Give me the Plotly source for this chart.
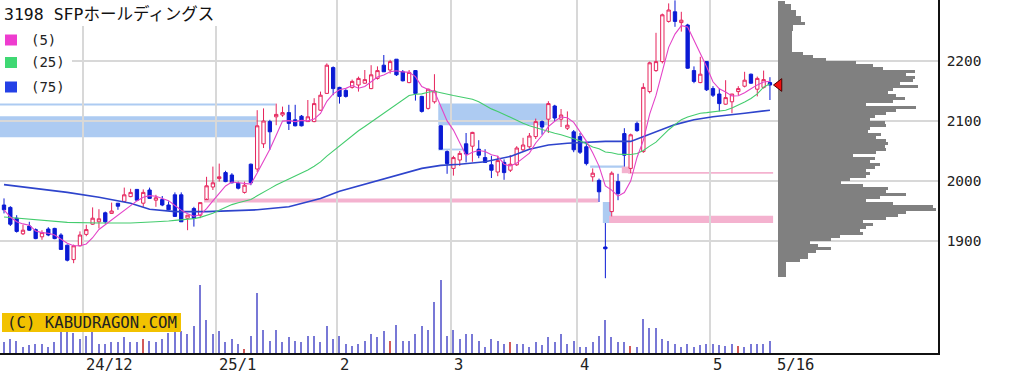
import plotly.graph_objects as go
import pandas as pd

# ---------------- data ----------------
opens = [1960, 1956, 1938, 1912, 1925, 1919, 1907, 1920, 1921, 1910,
         1893, 1869, 1892, 1911, 1928, 1932, 1947, 1946, 1963, 1966,
         1974, 1986, 1963, 1985, 1968, 1969, 1960, 1977, 1977, 1938,
         1954, 1943, 1969, 1990, 2004, 2014, 2010, 1996, 1981, 2028,
         2020, 2062, 2099, 2107, 2110, 2114, 2102, 2108, 2099, 2099,
         2118, 2146, 2189, 2156, 2151, 2156, 2160, 2163, 2154, 2171,
         2193, 2185, 2203, 2182, 2164, 2184, 2141, 2121, 2132, 2092,
         2049, 2021, 2035, 2062, 2058, 2053, 2039, 2027, 2015, 2031,
         2018, 2027, 2052, 2057, 2074, 2099, 2103, 2125, 2103, 2088,
         2082, 2074, 2057, 2007, 2001, 1890, 1949, 1999, 2079, 2021,
         2096, 2049, 2149, 2184, 2199, 2266, 2282, 2264, 2260, 2184,
         2164, 2199, 2154, 2145, 2128, 2132, 2149, 2158, 2178, 2153,
         2156, 2164]
highs = [1971, 1958, 1943, 1927, 1932, 1921, 1918, 1923, 1922, 1913,
         1894, 1894, 1916, 1927, 1956, 1953, 1949, 1964, 1963, 1989,
         1987, 1986, 1986, 1989, 1977, 1975, 1966, 1981, 1981, 1943,
         1957, 1964, 2007, 2024, 2029, 2017, 2013, 1999, 1999, 2029,
         2118, 2121, 2102, 2129, 2124, 2127, 2127, 2110, 2135, 2138,
         2149, 2196, 2191, 2157, 2153, 2169, 2174, 2185, 2193, 2191,
         2210, 2202, 2203, 2185, 2185, 2185, 2142, 2154, 2178, 2093,
         2051, 2042, 2050, 2080, 2082, 2068, 2053, 2042, 2042, 2036,
         2043, 2058, 2072, 2080, 2104, 2101, 2133, 2127, 2120, 2116,
         2085, 2080, 2063, 2021, 2004, 1930, 2016, 2012, 2088, 2079,
         2099, 2163, 2199, 2247, 2279, 2296, 2301, 2282, 2262, 2191,
         2207, 2200, 2158, 2154, 2168, 2145, 2158, 2182, 2179, 2174,
         2184, 2173]
lows = [1946, 1925, 1914, 1910, 1917, 1903, 1902, 1908, 1903, 1885,
        1866, 1863, 1891, 1908, 1927, 1921, 1929, 1945, 1952, 1965,
        1973, 1968, 1957, 1970, 1957, 1958, 1951, 1940, 1932, 1918,
        1924, 1938, 1971, 1985, 1999, 1998, 1996, 1986, 1979, 1993,
        2015, 2055, 2052, 2093, 2107, 2085, 2091, 2091, 2099, 2098,
        2117, 2145, 2143, 2129, 2139, 2154, 2149, 2162, 2153, 2169,
        2182, 2179, 2175, 2166, 2163, 2134, 2114, 2119, 2129, 2053,
        2012, 2009, 2025, 2031, 2032, 2038, 2030, 2005, 2008, 2002,
        2015, 2025, 2049, 2054, 2070, 2077, 2080, 2100, 2090, 2085,
        2048, 2045, 2026, 1999, 1965, 1838, 1941, 1968, 2024, 2013,
        2082, 2047, 2146, 2182, 2196, 2264, 2257, 2249, 2187, 2163,
        2163, 2150, 2140, 2116, 2127, 2113, 2143, 2156, 2162, 2141,
        2154, 2135]
closes = [1952, 1928, 1916, 1918, 1918, 1904, 1914, 1910, 1904, 1886,
          1868, 1892, 1910, 1919, 1938, 1937, 1932, 1950, 1958, 1977,
          1981, 1968, 1981, 1971, 1972, 1960, 1952, 1941, 1932, 1943,
          1938, 1964, 1992, 1997, 2007, 1999, 1997, 1988, 1993, 1997,
          2092, 2100, 2082, 2111, 2114, 2096, 2092, 2092, 2107, 2129,
          2143, 2193, 2154, 2141, 2141, 2166, 2171, 2169, 2177, 2184,
          2182, 2199, 2177, 2167, 2181, 2146, 2116, 2153, 2150, 2053,
          2029, 2039, 2046, 2045, 2081, 2043, 2031, 2018, 2034, 2014,
          2028, 2055, 2060, 2075, 2099, 2090, 2129, 2105, 2110, 2093,
          2052, 2048, 2029, 2013, 1982, 1887, 2013, 1979, 2043, 2077,
          2084, 2156, 2197, 2199, 2277, 2285, 2266, 2268, 2188, 2166,
          2178, 2152, 2143, 2129, 2139, 2145, 2154, 2168, 2163, 2171,
          2169, 2160]
# volume (relative units, read as bar heights)
volumes = [10.7, 14, 11.7, 6, 8, 9.3, 9.3, 6, 10.7, 21.7,
           21.7, 20, 14, 17.3, 21.7, 9.3, 9.3, 10.7, 10.7, 15.7,
           10.7, 10.7, 14, 12.3, 10.7, 14, 20, 21.7, 21.7, 19,
           26.7, 68.3, 33.3, 19, 22.3, 10.7, 14, 9.3, 4.3, 17.3,
           60, 23.3, 12.3, 23.3, 10.7, 15.7, 12.3, 10.7, 17.3, 17.3,
           10.7, 26.7, 14, 17.3, 9.3, 7.3, 9.3, 12.3, 19, 15.7,
           21.7, 12.3, 28.3, 12.3, 12.3, 19, 26.7, 23.3, 50.7, 72.7,
           17.3, 23.3, 14, 19, 19, 12.3, 6, 14, 12.3, 9.3,
           10.7, 9.3, 9.3, 6, 10.7, 8.3, 15.7, 10.7, 19, 9.3,
           12.3, 6, 6, 10.7, 17.3, 33.3, 15.7, 10.7, 10.7, 7.3,
           6, 34.3, 25, 25, 14, 12.3, 9.3, 6, 9.3, 6,
           8.3, 9.3, 9.3, 8.3, 7.3, 9.3, 7.3, 6, 9.3, 9.3,
           9.3, 12.3]
red_volume_days = [22, 38, 61, 80, 99, 116]

# moving averages
ma25_early_idx = [0, 5, 10, 15, 20]
ma25_early_val = [1940, 1935, 1931, 1930, 1930]
ma75_idx = [0, 5, 10, 15, 20, 23, 27, 32, 36, 40, 45, 50, 53, 56, 60, 63,
            66, 69, 72, 76, 80, 83, 86, 89, 92, 95, 99, 101, 103, 106, 109,
            112, 117, 121]
ma75_val = [1994, 1988, 1981, 1973, 1963, 1953, 1949, 1949, 1951, 1952,
            1957, 1971, 1983, 1992, 2003, 2012, 2021, 2026, 2028, 2032,
            2041, 2053, 2060, 2063, 2065, 2066, 2066, 2074, 2083, 2094,
            2102, 2107, 2113, 2118]

# month axis
month_labels = ["24/12", "25/1", "2", "3", "4", "5"]
month_first_idx = [13, 34, 53, 71, 91, 112]
last_date_label = "5/16"

# price-by-volume profile (5-yen bins from 2300 downwards)
PROFILE_TOP = 2300
PROFILE_BIN = 5
profile_vol = [20, 40, 40, 55, 55, 70, 70, 80, 45, 45, 42, 42, 42, 42, 42, 42,
               42, 75, 105, 145, 235, 285, 315, 410, 385, 410, 405, 365, 420,
               345, 330, 355, 380, 345, 265, 415, 355, 325, 290, 275, 320, 325,
               275, 270, 310, 295, 325, 330, 320, 325, 295, 225, 290, 275, 305,
               290, 265, 275, 265, 215, 190, 255, 330, 325, 385, 305, 265, 345,
               465, 475, 385, 360, 325, 255, 285, 265, 245, 255, 185, 160, 95,
               120, 160, 115, 90, 90, 65, 25, 25, 25, 25, 25]
current_price = 2160

# price gaps (windows): start bar, end bar (None = still open), low, high, kind
gaps = [(None, 40, 2073, 2108, "down"),
        (None, 43, 2126, 2129, "down"),
        (32, 94, 1964, 1971, "up"),
        (69, 86, 2093, 2129, "down"),
        (69, 73, 2051, 2054, "down"),
        (93, 98, 2022, 2026, "down"),
        (95, 96, 1930, 1965, "down"),
        (98, 99, 2013, 2024, "up"),
        (99, None, 2012, 2015, "up"),
        (96, None, 1930, 1942, "up")]

# ---------------- layout helpers ----------------
W_PLOT, H_PLOT = 938, 353
def pxx(px):
    return px / W_PLOT
def pxy(py):
    return 1 - py / H_PLOT

n = len(closes)
xs = list(range(n))
X_RANGE = [-0.632, 147.55]
Y_RANGE = [1713.33, 2301.67]
MONO = "DejaVu Sans Mono, Noto Sans CJK JP"

cl = pd.Series(closes)
ma5 = cl.rolling(5, min_periods=1).mean()
ma25_calc = cl.rolling(25).mean()
ma25_x = ma25_early_idx + [i for i in xs if i >= 24]
ma25_y = ma25_early_val + [ma25_calc[i] for i in xs if i >= 24]

fig = go.Figure()

vol_colors = ["#d25a5a" if i in red_volume_days else "#7878d6" for i in xs]
fig.add_trace(go.Bar(x=xs, y=volumes, yaxis="y3", width=0.22,
                     marker=dict(color=vol_colors, line=dict(width=0)),
                     hoverinfo="skip", showlegend=False))

fig.add_trace(go.Candlestick(
    x=xs, open=opens, high=highs, low=lows, close=closes,
    increasing=dict(line=dict(color="#e6245c", width=1), fillcolor="white"),
    decreasing=dict(line=dict(color="#0a1ad4", width=1), fillcolor="#0a1ad4"),
    whiskerwidth=0, showlegend=False, hoverinfo="skip"))

fig.add_trace(go.Scatter(x=ma75_idx, y=ma75_val, mode="lines",
                         line=dict(color="#2e44cc", width=1.6), showlegend=False))
fig.add_trace(go.Scatter(x=ma25_x, y=ma25_y, mode="lines",
                         line=dict(color="#44cc6e", width=1.1), showlegend=False))
fig.add_trace(go.Scatter(x=xs, y=ma5, mode="lines",
                         line=dict(color="#e444c8", width=1.1), showlegend=False))

prof_prices = [PROFILE_TOP - PROFILE_BIN / 2 - PROFILE_BIN * k for k in range(len(profile_vol))]
fig.add_trace(go.Bar(x=profile_vol, y=prof_prices, orientation="h", xaxis="x2", yaxis="y",
                     width=PROFILE_BIN, marker=dict(color="#808080", line=dict(width=0)),
                     hoverinfo="skip", showlegend=False))
fig.add_trace(go.Scatter(x=[3], y=[current_price], xaxis="x2", yaxis="y", mode="markers",
                         marker=dict(symbol="triangle-left", size=11, color="#f01010",
                                     line=dict(color="#500000", width=1)),
                         cliponaxis=False, showlegend=False))

shapes = []
for start, end, lo, hi, kind in gaps:
    x0 = X_RANGE[0] if start is None else start - 0.4
    x1 = n - 0.5 if end is None else end - 0.1
    col = "#f4b2cf" if kind == "up" else "#adcbf2"
    shapes.append(dict(type="rect", xref="x", yref="y", x0=x0, x1=x1, y0=lo, y1=hi,
                       fillcolor=col, line=dict(width=0), layer="below"))

# white boxes behind title and legend
shapes.append(dict(type="rect", xref="paper", yref="paper", x0=0, x1=pxx(220),
                   y0=pxy(26), y1=1, fillcolor="white", line=dict(width=0), layer="above"))
shapes.append(dict(type="rect", xref="paper", yref="paper", x0=0, x1=pxx(72),
                   y0=pxy(100), y1=pxy(26), fillcolor="white", line=dict(width=0), layer="above"))
# copyright box
shapes.append(dict(type="rect", xref="paper", yref="paper", x0=pxx(2), x1=pxx(181),
                   y0=pxy(332), y1=pxy(313), fillcolor="#f2c200", line=dict(width=0),
                   layer="above"))
legend_items = [("(5)", "#ee3ccf", 40), ("(25)", "#3fd873", 62.5), ("(75)", "#2440e6", 87)]
annotations = []
for label, col, yc in legend_items:
    shapes.append(dict(type="rect", xref="paper", yref="paper", x0=pxx(5), x1=pxx(17),
                       y0=pxy(yc + 5.5), y1=pxy(yc - 5.5), fillcolor=col,
                       line=dict(width=0), layer="above"))
    annotations.append(dict(text=label, xref="paper", yref="paper", x=pxx(29), y=pxy(yc),
                            xanchor="left", yanchor="middle", showarrow=False,
                            font=dict(family=MONO, size=14, color="#222222")))

annotations.append(dict(text="3198 SFPホールディングス", xref="paper", yref="paper",
                        x=pxx(2), y=pxy(14), xanchor="left", yanchor="middle", showarrow=False,
                        font=dict(family=MONO, size=16.5, color="#111111")))
annotations.append(dict(text="(C) KABUDRAGON.COM", xref="paper", yref="paper",
                        x=pxx(91.5), y=pxy(322.5), xanchor="center", yanchor="middle",
                        showarrow=False,
                        font=dict(family=MONO, size=15.7, color="#222222")))
grid_x = [m - 0.45 for m in month_first_idx]
for lab, gx in zip(month_labels, grid_x):
    annotations.append(dict(text=lab, xref="x", yref="paper", x=gx, y=pxy(365),
                            xanchor="left", yanchor="middle", xshift=1, showarrow=False,
                            font=dict(family=MONO, size=15.5, color="#222222")))
annotations.append(dict(text=last_date_label, xref="x", yref="paper", x=n - 1, y=pxy(365),
                        xanchor="left", yanchor="middle", xshift=5, showarrow=False,
                        font=dict(family=MONO, size=15.5, color="#222222")))

fig.update_layout(
    width=1011, height=384,
    margin=dict(l=0, r=73, t=0, b=31),
    paper_bgcolor="white", plot_bgcolor="white",
    showlegend=False, boxgap=0.25, bargap=0,
    shapes=shapes, annotations=annotations,
    xaxis=dict(range=X_RANGE, domain=[0, 1], tickvals=grid_x, showticklabels=False,
               showgrid=True, gridcolor="#d8d8d8", gridwidth=1.5, zeroline=False,
               showline=True, linecolor="#111111", linewidth=1.5, ticks="",
               rangeslider=dict(visible=False), fixedrange=True),
    xaxis2=dict(domain=[778 / W_PLOT, 1], range=[0, 480], anchor="y", visible=False,
                fixedrange=True),
    yaxis=dict(range=Y_RANGE, side="right", tickvals=[1900, 2000, 2100, 2200],
               showgrid=True, gridcolor="#d8d8d8", gridwidth=1.5, zeroline=False,
               showline=True, linecolor="#111111", linewidth=1.5,
               ticks="inside", ticklen=6, tickcolor="#111111", ticklabelstandoff=4,
               tickfont=dict(family=MONO, size=14.5, color="#222222"), fixedrange=True),
    yaxis3=dict(range=[0, H_PLOT], overlaying="y", anchor="x", visible=False, fixedrange=True),
)

fig.write_html("out.html", config={"displayModeBar": False},
               post_script="document.body.style.margin='0';document.body.style.overflow='hidden';")
